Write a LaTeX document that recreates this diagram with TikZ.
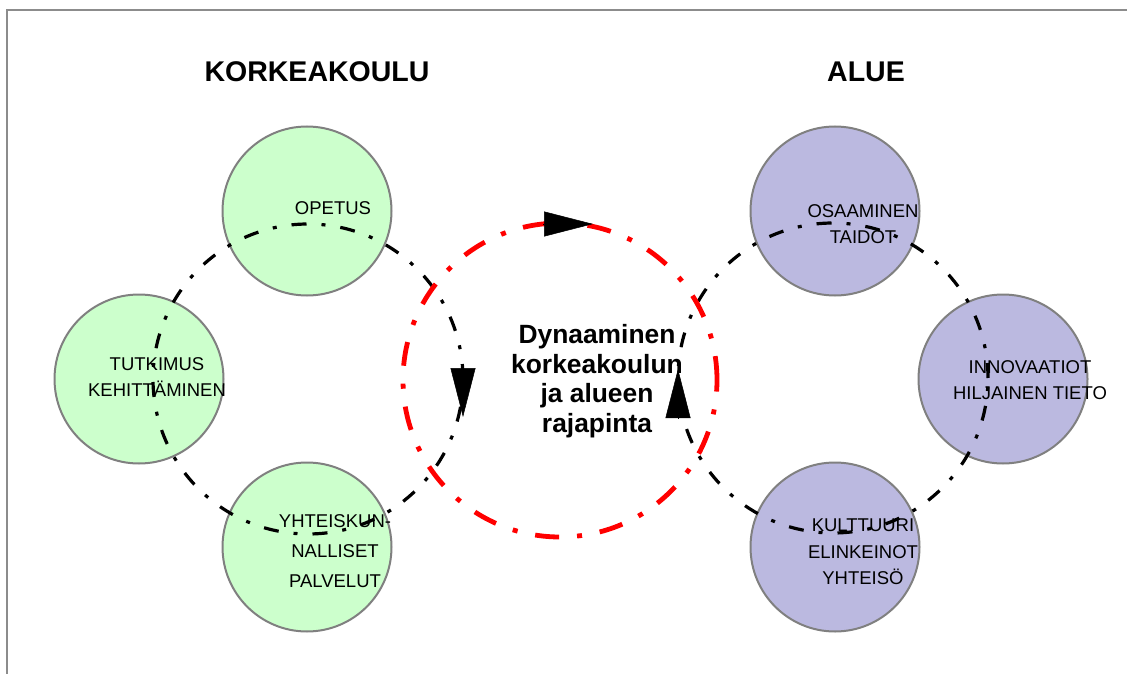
\documentclass[tikz,border=0pt]{standalone}
\usepackage{fontspec}
\setmainfont{Liberation Sans}
\usetikzlibrary{arrows.meta}
\definecolor{frameGray}{RGB}{128,128,128}
\definecolor{borderGray}{RGB}{140,140,140}
\definecolor{unitGreen}{RGB}{204,255,204}
\definecolor{regionViolet}{RGB}{187,185,224}

\begin{document}
\begin{tikzpicture}[
  x=1pt, y=-1pt,
  every node/.style={font=\fontsize{18.5}{26.5}\selectfont, align=center, inner sep=0pt},
  unit/.style={circle, draw=frameGray, line width=2pt, minimum size=169pt},
  cycle/.style={circle, draw=black, line width=3.2pt, minimum size=310pt, outer sep=0pt,
    dash pattern=on 15pt off 15pt on 4pt off 15pt},
  interface/.style={circle, draw=red, line width=4.8pt, minimum size=314pt, outer sep=0pt,
    dash pattern=on 24pt off 18pt on 5pt off 18pt},
  bigtip/.style={line width=0.5pt, -{Triangle[length=49pt, width=25pt]}},
  heading/.style={font=\fontsize{28.5}{32}\selectfont\bfseries}
]
\useasboundingbox (0,0) rectangle (1127,674);
\draw[borderGray, line width=2.5pt] (7,674) -- (7,10) -- (1127,10);

\node[heading] (korkeakoulu) at (317,72) {KORKEAKOULU};
\node[heading] (alue) at (866,72) {ALUE};

\node[unit, fill=unitGreen] (opetus) at (307,211) {};
\node[unit, fill=unitGreen] (tutkimus) at (139,379) {};
\node[unit, fill=unitGreen] (palvelut) at (307,547) {};
\node[unit, fill=regionViolet] (osaaminen) at (835,211) {};
\node[unit, fill=regionViolet] (innovaatiot) at (1003,379) {};
\node[unit, fill=regionViolet] (kulttuuri) at (835,547) {};

\node (opetusText) at (333,208) {OPETUS};
\node (tutkimusText) at (157,377) {TUTKIMUS\\KEHITTÄMINEN};
\node[font=\fontsize{18.5}{30}\selectfont] (palvelutText) at (335,551) {YHTEISKUN-\\NALLISET\\PALVELUT};
\node (osaaminenText) at (863,224) {OSAAMINEN\\TAIDOT};
\node (innovaatiotText) at (1030,380) {INNOVAATIOT\\HILJAINEN TIETO};
\node (kulttuuriText) at (863,552) {KULTTUURI\\ELINKEINOT\\YHTEISÖ};

\node[font=\fontsize{26.4}{29.5}\selectfont\bfseries] (rajapinta) at (597,381)
  {Dynaaminen\\korkeakoulun\\ja alueen\\rajapinta};

\node[cycle] (loopL) at (308,379) {};
\node[cycle] (loopR) at (833,378) {};
\node[interface] (redLoop) at (560,380) {};

\draw[bigtip] ([yshift=11pt]loopL.east) -- ([yshift=-38pt]loopL.east);
\draw[bigtip] ([yshift=-40pt]loopR.west) -- ([yshift=9pt]loopR.west);
\draw[bigtip] ([xshift=-17pt,yshift=-1pt]redLoop.north) -- ([xshift=33pt,yshift=-1pt]redLoop.north);
\end{tikzpicture}
\end{document}
